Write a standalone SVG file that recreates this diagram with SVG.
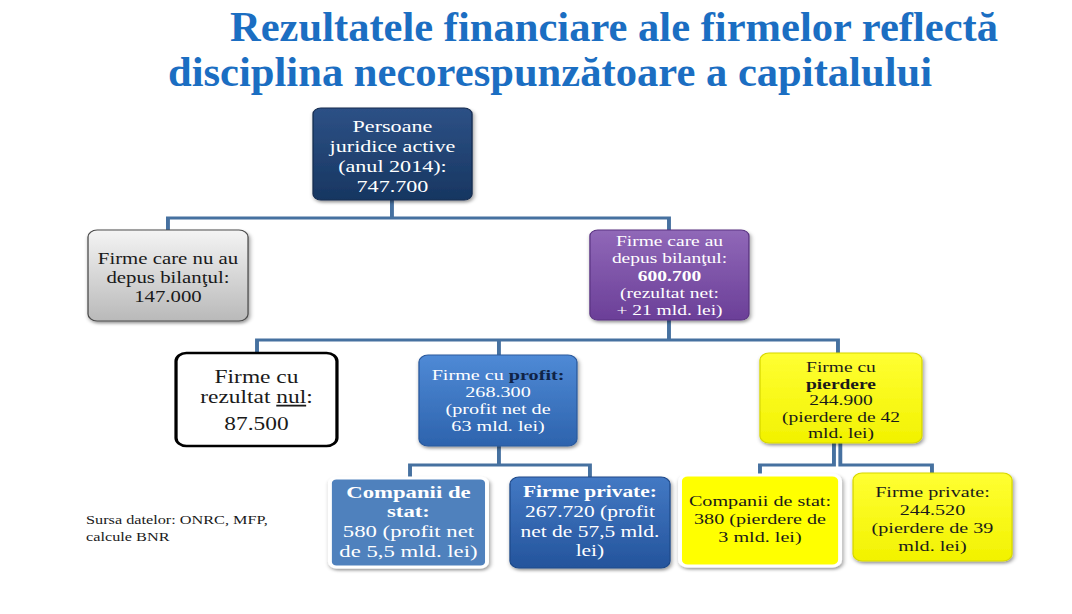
<svg xmlns="http://www.w3.org/2000/svg" width="1072" height="614" viewBox="0 0 1072 614">
<defs>
<style>
.t{font-family:"Liberation Serif","Times New Roman","DejaVu Serif",serif;text-anchor:middle}
.w{fill:#ffffff}
.k{fill:#1a1a1a}
.b{font-weight:bold}
.conn{fill:none;stroke:#4671a0;stroke-width:3;stroke-linejoin:miter}
.title{font-family:"Liberation Serif","Times New Roman","DejaVu Serif",serif;font-weight:bold;font-size:42px;fill:#1b6ec2}
.src{font-family:"Liberation Serif","Times New Roman","DejaVu Serif",serif;font-size:12.5px;fill:#1a1a1a}
</style>
<linearGradient id="gNavy" x1="0" y1="0" x2="0" y2="1"><stop offset="0" stop-color="#2d5186"/><stop offset="1" stop-color="#173661"/></linearGradient>
<linearGradient id="gGray" x1="0" y1="0" x2="0" y2="1"><stop offset="0" stop-color="#f4f4f4"/><stop offset="1" stop-color="#b9b9b9"/></linearGradient>
<linearGradient id="gPurple" x1="0" y1="0" x2="0" y2="1"><stop offset="0" stop-color="#9068b8"/><stop offset="1" stop-color="#6b3f98"/></linearGradient>
<linearGradient id="gBlue" x1="0" y1="0" x2="0" y2="1"><stop offset="0" stop-color="#4f8ad6"/><stop offset="1" stop-color="#2d63ad"/></linearGradient>
<linearGradient id="gBlue2" x1="0" y1="0" x2="0" y2="1"><stop offset="0" stop-color="#4379c4"/><stop offset="1" stop-color="#24549c"/></linearGradient>
<linearGradient id="gYellow" x1="0" y1="0" x2="0" y2="1"><stop offset="0" stop-color="#ffff33"/><stop offset="1" stop-color="#f2f200"/></linearGradient>
<filter id="sh" x="-10%" y="-10%" width="125%" height="130%"><feDropShadow dx="1" dy="2" stdDeviation="1.5" flood-color="#000" flood-opacity="0.4"/></filter>
</defs>
<rect x="0" y="0" width="1072" height="614" fill="#ffffff"/>
<g id="title">
<text class="title" x="230" y="41" textLength="768" lengthAdjust="spacingAndGlyphs">Rezultatele financiare ale firmelor reflectă</text>
<text class="title" x="168" y="86" textLength="764" lengthAdjust="spacingAndGlyphs">disciplina necorespunzătoare a capitalului</text>
</g>
<g id="diagram" transform="scale(1.3 1)">
<g id="connectors">
<path class="conn" d="M301.5 200 V218 M129.2 230 V218 H514.6 V230"/>
<path class="conn" d="M514.6 320 V340 M197.7 353 V340 H644.6 V353 M383.8 340 V355"/>
<path class="conn" d="M383.8 446 V465 M315.4 478 V465 H453.8 V477"/>
<path class="conn" d="M641.5 443 V465 H584.6 V475 M646.4 443 V465 H716.9 V473"/>
</g>
<g id="n-root">
<rect x="240.8" y="108" width="122.3" height="92" rx="6" fill="url(#gNavy)" stroke="#142c50" stroke-width="1" filter="url(#sh)"/>
<text class="t w" font-size="17"><tspan x="301.9" y="132">Persoane</tspan><tspan x="301.9" y="152">juridice active</tspan><tspan x="301.9" y="172">(anul 2014):</tspan><tspan x="301.9" y="192">747.700</tspan></text>
</g>
<g id="n-nedepus">
<rect x="67.7" y="230" width="123.1" height="91" rx="7" fill="url(#gGray)" stroke="#4d4d4d" stroke-width="1" filter="url(#sh)"/>
<text class="t k" font-size="16"><tspan x="129.2" y="264">Firme care nu au</tspan><tspan x="129.2" y="283">depus bilanţul:</tspan><tspan x="129.2" y="302">147.000</tspan></text>
</g>
<g id="n-depus">
<rect x="453.8" y="230" width="122.3" height="90" rx="6" fill="url(#gPurple)" stroke="#5a3382" stroke-width="1" filter="url(#sh)"/>
<text class="t w" font-size="15"><tspan x="515" y="246">Firme care au</tspan><tspan x="515" y="263.5">depus bilanţul:</tspan><tspan x="515" y="281" class="b">600.700</tspan><tspan x="515" y="298">(rezultat net:</tspan><tspan x="515" y="315">+ 21 mld. lei)</tspan></text>
</g>
<g id="n-nul">
<rect x="135.4" y="353" width="123.8" height="93" rx="8" fill="#ffffff" stroke="#000000" stroke-width="2.5"/>
<text class="t k" font-size="18"><tspan x="197.3" y="383">Firme cu</tspan><tspan x="197.3" y="403">rezultat <tspan text-decoration="underline">nul</tspan>:</tspan><tspan x="197.3" y="430">87.500</tspan></text>
</g>
<g id="n-profit">
<rect x="322.3" y="355" width="121.5" height="91" rx="7" fill="url(#gBlue)" stroke="#2a5a9e" stroke-width="1" filter="url(#sh)"/>
<text class="t w" font-size="15.5"><tspan x="383.1" y="380">Firme cu <tspan class="b" fill="#0f2346">profit:</tspan></tspan><tspan x="383.1" y="397">268.300</tspan><tspan x="383.1" y="414">(profit net de</tspan><tspan x="383.1" y="431">63 mld. lei)</tspan></text>
</g>
<g id="n-pierdere">
<rect x="584.6" y="353" width="124.6" height="90" rx="7" fill="url(#gYellow)" stroke="#d8d800" stroke-width="1" filter="url(#sh)"/>
<text class="t k" font-size="15"><tspan x="646.9" y="372">Firme cu</tspan><tspan x="646.9" y="389" class="b">pierdere</tspan><tspan x="646.9" y="405.5">244.900</tspan><tspan x="646.9" y="422">(pierdere de 42</tspan><tspan x="646.9" y="438.5">mld. lei)</tspan></text>
</g>
<g id="n-stat-profit">
<rect x="253.8" y="478" width="120.8" height="89" rx="5" fill="#4f81bd" stroke="#ffffff" stroke-width="3" filter="url(#sh)"/>
<text class="t w" font-size="17.5"><tspan x="314.2" y="498" class="b">Companii de</tspan><tspan x="314.2" y="517" class="b">stat:</tspan><tspan x="314.2" y="537">580 (profit net</tspan><tspan x="314.2" y="557">de 5,5 mld. lei)</tspan></text>
</g>
<g id="n-privat-profit">
<rect x="392.3" y="477" width="123.1" height="91" rx="7" fill="url(#gBlue2)" stroke="#1f4a8a" stroke-width="1" filter="url(#sh)"/>
<text class="t w" font-size="16.5"><tspan x="453.8" y="497" class="b">Firme private:</tspan><tspan x="453.8" y="517">267.720 (profit</tspan><tspan x="453.8" y="537">net de 57,5 mld.</tspan><tspan x="453.8" y="556">lei)</tspan></text>
</g>
<g id="n-stat-pierdere">
<rect x="523.1" y="475" width="123.1" height="91" rx="6" fill="#ffff00" stroke="#ffffff" stroke-width="3" filter="url(#sh)"/>
<text class="t k" font-size="15.5"><tspan x="584.6" y="506">Companii de stat:</tspan><tspan x="584.6" y="524">380 (pierdere de</tspan><tspan x="584.6" y="542">3 mld. lei)</tspan></text>
</g>
<g id="n-privat-pierdere">
<rect x="656.2" y="473" width="122.3" height="88" rx="7" fill="url(#gYellow)" stroke="#d8d800" stroke-width="1" filter="url(#sh)"/>
<text class="t k" font-size="15.5"><tspan x="717.3" y="497">Firme private:</tspan><tspan x="717.3" y="515">244.520</tspan><tspan x="717.3" y="533">(pierdere de 39</tspan><tspan x="717.3" y="551">mld. lei)</tspan></text>
</g>
<g id="source">
<text class="src"><tspan x="66.2" y="524">Sursa datelor: ONRC, MFP,</tspan><tspan x="66.2" y="541">calcule BNR</tspan></text>
</g>
</g>
</svg>
